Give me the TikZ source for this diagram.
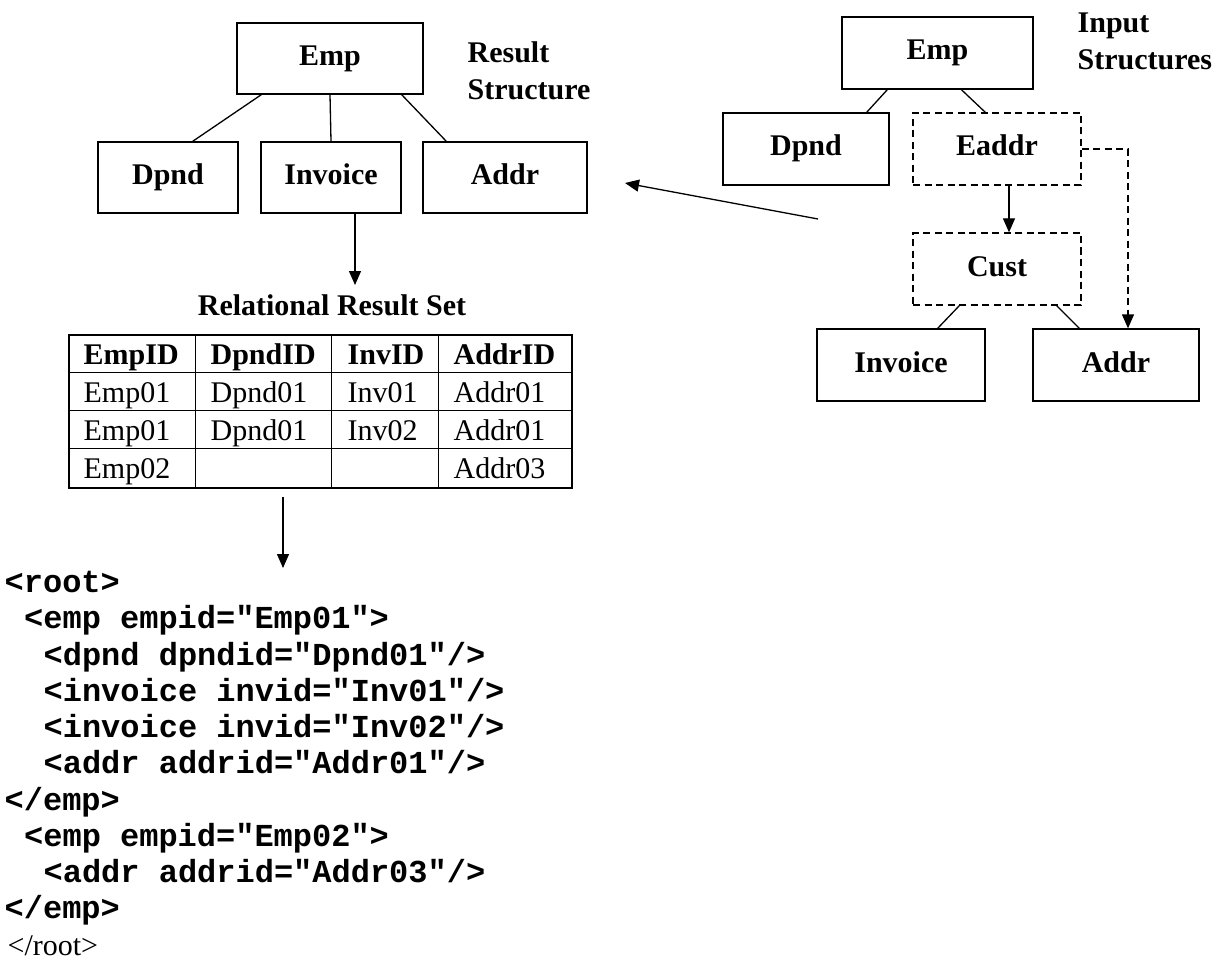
\documentclass[tikz,border=0pt]{standalone}
\usepackage{fontspec}
\setmainfont{Liberation Serif}
\setmonofont{Liberation Mono}
\usetikzlibrary{arrows.meta,calc}
\newcommand\lblfont{\fontsize{30}{37}\selectfont\bfseries}
\newcommand\cellfont{\fontsize{30}{36}\selectfont}
\newcommand\xmlfont{\fontsize{32}{36}\selectfont\ttfamily\bfseries}
\begin{document}
\begin{tikzpicture}[x=1pt,y=-1pt,line width=1.3pt,
  box/.style={draw, rectangle, inner sep=0pt, font=\lblfont, text height=21pt, text depth=7pt},
  dbox/.style={box, dash pattern=on 7pt off 4.5pt},
  arr/.style={-{Triangle[length=14pt,width=12pt]}},
  dsh/.style={dash pattern=on 7pt off 4.5pt},
  lbl/.style={anchor=base west, align=left, inner sep=0pt, font=\lblfont},
  cell/.style={anchor=base west, inner sep=0pt, font=\cellfont},
  head/.style={cell, font=\cellfont\bfseries},
  xml/.style={anchor=base west, inner sep=0pt, font=\xmlfont}]
\useasboundingbox (0,0) rectangle (1226,960);
% Result structure
\node[box, minimum width=186pt, minimum height=71pt] (re) at (330,58.5) {Emp};
\node[box, minimum width=140pt, minimum height=71pt] (rd) at (168,177.5) {Dpnd};
\node[box, minimum width=140pt, minimum height=71pt] (ri) at (331,177.5) {Invoice};
\node[box, minimum width=164pt, minimum height=71pt] (ra) at (505,177.5) {Addr};
\node[lbl] (rs) at (467,100) {Result\\Structure};
\draw ([xshift=25pt]re.south west) -- ([xshift=-46pt]rd.north east);
\draw (re.south) -- (ri.north);
\draw ([xshift=-22pt]re.south east) -- ([xshift=24pt]ra.north west);
% Input structures
\node[box, minimum width=191pt, minimum height=72pt] (ie) at (937.5,53) {Emp};
\node[box, minimum width=166pt, minimum height=72pt] (id) at (806,149) {Dpnd};
\node[dbox, minimum width=168pt, minimum height=72pt] (ea) at (997,149) {Eaddr};
\node[dbox, minimum width=168pt, minimum height=72pt] (cu) at (997,269) {Cust};
\node[box, minimum width=168pt, minimum height=72pt] (ii) at (901,365) {Invoice};
\node[box, minimum width=166pt, minimum height=72pt] (ia) at (1116,365) {Addr};
\node[lbl] (is) at (1077,70) {Input\\Structures};
\draw ([xshift=46pt]ie.south west) -- ([xshift=-23pt]id.north east);
\draw ([xshift=120pt]ie.south west) -- ([xshift=73pt]ea.north west);
\draw ([xshift=47pt]cu.south west) -- ([xshift=-48pt]ii.north east);
\draw ([xshift=-25pt]cu.south east) -- ([xshift=47pt]ia.north west);
\draw[arr] ([xshift=12pt]ea.south) -- ([xshift=12pt]cu.north);
\draw[arr,dsh] (ea.east) -| ([xshift=12pt]ia.north);
% long arrow
\coordinate (ls) at (818,219);
\coordinate (lt) at (625,183);
\draw[arr] (ls) -- (lt);
% arrow to table
\coordinate (rt) at (355,285);
\draw[arr] (ri.south -| rt) -- (rt);
\node[anchor=base, inner sep=0pt, font=\lblfont] (title) at (332,315) {Relational Result Set};
% table
\node[draw, inner sep=0pt, minimum width=503pt, minimum height=153pt] (tbl) at (320.5,411.5) {};
\foreach \d in {38,76,114}
  \draw ([yshift=-\d pt]tbl.north west) -- ([yshift=-\d pt]tbl.north east);
\foreach \d in {127,263,370}
  \draw ([xshift=\d pt]tbl.north west) -- ([xshift=\d pt]tbl.south west);
\node[head] (h1) at (83,364.5) {EmpID};
\node[head] (h2) at (210,364.5) {DpndID};
\node[head] (h3) at (347,364.5) {InvID};
\node[head] (h4) at (453,364.5) {AddrID};
\node[cell] (a1) at (83,402.5) {Emp01};
\node[cell] (a2) at (210,402.5) {Dpnd01};
\node[cell] (a3) at (347,402.5) {Inv01};
\node[cell] (a4) at (453,402.5) {Addr01};
\node[cell] (b1) at (83,440.5) {Emp01};
\node[cell] (b2) at (210,440.5) {Dpnd01};
\node[cell] (b3) at (347,440.5) {Inv02};
\node[cell] (b4) at (453,440.5) {Addr01};
\node[cell] (c1) at (83,478.5) {Emp02};
\node[cell] (c4) at (453,478.5) {Addr03};
% arrow to xml
\coordinate (xs) at (283,497);
\coordinate (xt) at (283,568);
\draw[arr] (xs) -- (xt);
% xml
\node[xml] (x1) at (4,592) {<root>};
\node[xml] (x2) at (23.5,628) {<emp empid="Emp01">};
\node[xml] (x3) at (43,665) {<dpnd dpndid="Dpnd01"/>};
\node[xml] (x4) at (43,701) {<invoice invid="Inv01"/>};
\node[xml] (x5) at (43,737) {<invoice invid="Inv02"/>};
\node[xml] (x6) at (43,773) {<addr addrid="Addr01"/>};
\node[xml] (x7) at (4,810) {</emp>};
\node[xml] (x8) at (23.5,846) {<emp empid="Emp02">};
\node[xml] (x9) at (43,882) {<addr addrid="Addr03"/>};
\node[xml] (x10) at (4,918) {</emp>};
\node[cell] (x11) at (7,955) {</root>};
\end{tikzpicture}
\end{document}
